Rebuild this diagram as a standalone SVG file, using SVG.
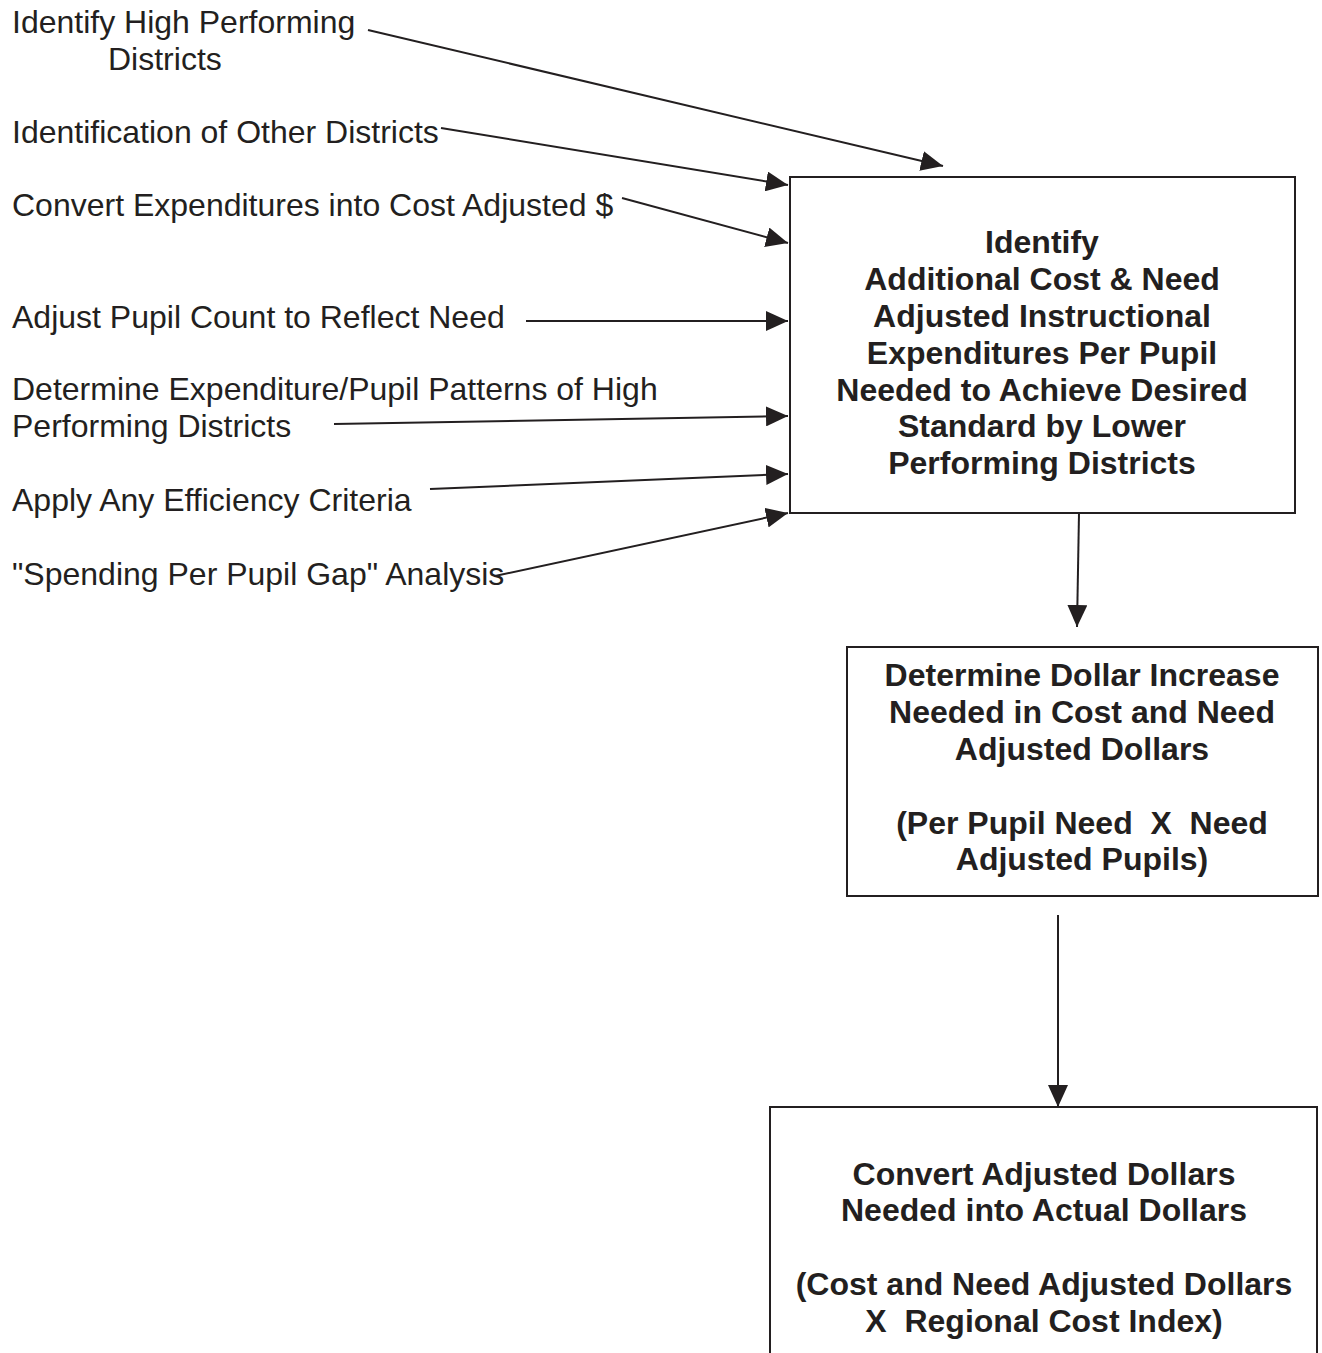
<svg xmlns="http://www.w3.org/2000/svg" width="1322" height="1353" viewBox="0 0 1322 1353">
<style>
.lbl{font-family:"Liberation Sans",Arial,sans-serif;font-size:32px;fill:#231f20}
.bt{font-family:"Liberation Sans",Arial,sans-serif;font-size:32px;font-weight:bold;fill:#231f20;text-anchor:middle}
.box{fill:#fff;stroke:#231f20;stroke-width:2}
.conn line{stroke:#231f20;stroke-width:2}
</style>
<defs>
<marker id="ah" markerUnits="userSpaceOnUse" markerWidth="24" markerHeight="20" refX="22" refY="10" orient="auto">
<path d="M0,0 L22,10 L0,20 Z" fill="#231f20"/>
</marker>
</defs>
<rect width="1322" height="1353" fill="#fff"/>
<g id="inputs">
<text class="lbl" x="12" y="33">Identify High Performing</text>
<text class="lbl" x="108" y="70">Districts</text>
<text class="lbl" x="12" y="143">Identification of Other Districts</text>
<text class="lbl" x="12" y="216">Convert Expenditures into Cost Adjusted $</text>
<text class="lbl" x="12" y="328">Adjust Pupil Count to Reflect Need</text>
<text class="lbl" x="12" y="400">Determine Expenditure/Pupil Patterns of High</text>
<text class="lbl" x="12" y="437">Performing Districts</text>
<text class="lbl" x="12" y="511">Apply Any Efficiency Criteria</text>
<text class="lbl" x="12" y="585">"Spending Per Pupil Gap" Analysis</text>
</g>
<g id="node1">
<rect class="box" x="790" y="177" width="505" height="336"/>
<text class="bt" x="1042" y="253">Identify</text>
<text class="bt" x="1042" y="290">Additional Cost &amp; Need</text>
<text class="bt" x="1042" y="327">Adjusted Instructional</text>
<text class="bt" x="1042" y="364">Expenditures Per Pupil</text>
<text class="bt" x="1042" y="401">Needed to Achieve Desired</text>
<text class="bt" x="1042" y="437">Standard by Lower</text>
<text class="bt" x="1042" y="474">Performing Districts</text>
</g>
<g id="node2">
<rect class="box" x="847" y="647" width="471" height="249"/>
<text class="bt" x="1082" y="686">Determine Dollar Increase</text>
<text class="bt" x="1082" y="723">Needed in Cost and Need</text>
<text class="bt" x="1082" y="760">Adjusted Dollars</text>
<text class="bt" x="1082" y="834" xml:space="preserve">(Per Pupil Need  X  Need</text>
<text class="bt" x="1082" y="870">Adjusted Pupils)</text>
</g>
<g id="node3">
<rect class="box" x="770" y="1107" width="547" height="260"/>
<text class="bt" x="1044" y="1185">Convert Adjusted Dollars</text>
<text class="bt" x="1044" y="1221">Needed into Actual Dollars</text>
<text class="bt" x="1044" y="1295">(Cost and Need Adjusted Dollars</text>
<text class="bt" x="1044" y="1332" xml:space="preserve">X  Regional Cost Index)</text>
</g>
<g class="conn" id="connectors">
<line x1="368" y1="30" x2="943" y2="166" marker-end="url(#ah)"/>
<line x1="441" y1="128" x2="788" y2="185" marker-end="url(#ah)"/>
<line x1="622" y1="198" x2="788" y2="243" marker-end="url(#ah)"/>
<line x1="526" y1="321" x2="788" y2="321" marker-end="url(#ah)"/>
<line x1="334" y1="424" x2="788" y2="416" marker-end="url(#ah)"/>
<line x1="430" y1="489" x2="788" y2="474" marker-end="url(#ah)"/>
<line x1="495" y1="576" x2="788" y2="513" marker-end="url(#ah)"/>
<line x1="1079" y1="513" x2="1077" y2="627" marker-end="url(#ah)"/>
<line x1="1058" y1="915" x2="1058" y2="1107" marker-end="url(#ah)"/>
</g>
</svg>
